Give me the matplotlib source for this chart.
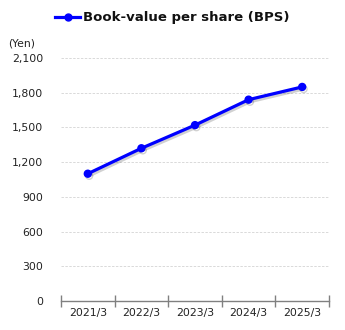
import matplotlib
matplotlib.use("Agg")
import matplotlib.pyplot as plt
import matplotlib.patheffects as pe
from matplotlib.lines import Line2D
import numpy as np

periods = ["2021/3", "2022/3", "2023/3", "2024/3", "2025/3"]
bps = [1100, 1320, 1520, 1740, 1850]
y_ticks = [0, 300, 600, 900, 1200, 1500, 1800, 2100]
series_name = "Book-value per share (BPS)"
unit_label = "(Yen)"

W, H = 345, 330
fig = plt.figure(figsize=(W / 100, H / 100), dpi=100)
ax = fig.add_axes([61 / W, 1 - 301 / H, (329 - 61) / W, (301 - 58) / H])

x = np.arange(len(periods))
ax.plot(x, bps, color="#0000ff", lw=2.3, marker="o", ms=5, zorder=3,
        solid_capstyle="round",
        path_effects=[pe.SimpleLineShadow(offset=(1, -1.5), shadow_color="#000000", alpha=0.18),
                      pe.Normal()])

ax.set_xlim(-0.5, len(periods) - 0.5)
ax.set_ylim(0, 2100)
ax.set_yticks(y_ticks)
ax.set_yticklabels([f"{v:,}" for v in y_ticks], fontsize=7.8, color="#222222")
for v in y_ticks[1:]:
    ax.axhline(v, color="#d9d9d9", lw=0.7, ls=(0, (2.5, 1.5)), zorder=1)

ax.set_xticks(x)
ax.set_xticklabels(periods, fontsize=7.8, color="#222222")
ax.tick_params(axis="x", length=0, pad=5)
ax.tick_params(axis="y", length=0, pad=13)
for lbl in ax.get_yticklabels():
    lbl.set_horizontalalignment("right")

# category boundary ticks crossing the baseline
ax.set_xticks(np.arange(len(periods) + 1) - 0.5, minor=True)
ax.tick_params(axis="x", which="minor", length=8, direction="inout", color="#808080", width=1)

for s in ["top", "right", "left"]:
    ax.spines[s].set_visible(False)
ax.spines["bottom"].set_color("#808080")
ax.spines["bottom"].set_linewidth(1)

fig.text(8 / W, 1 - 43 / H, unit_label, fontsize=7.8, color="#222222", va="center", ha="left")

# legend entry
fig.add_artist(Line2D([55 / W, 80 / W], [1 - 17 / H, 1 - 17 / H], color="#0000ff", lw=2.3,
                      transform=fig.transFigure))
fig.add_artist(Line2D([67.5 / W], [1 - 17 / H], color="#0000ff", marker="o", ms=5,
                      transform=fig.transFigure))
fig.text(83 / W, 1 - 17 / H, series_name, fontsize=9.5, fontweight="bold", color="#111111",
         va="center", ha="left")

fig.savefig("out.png", dpi=100)
